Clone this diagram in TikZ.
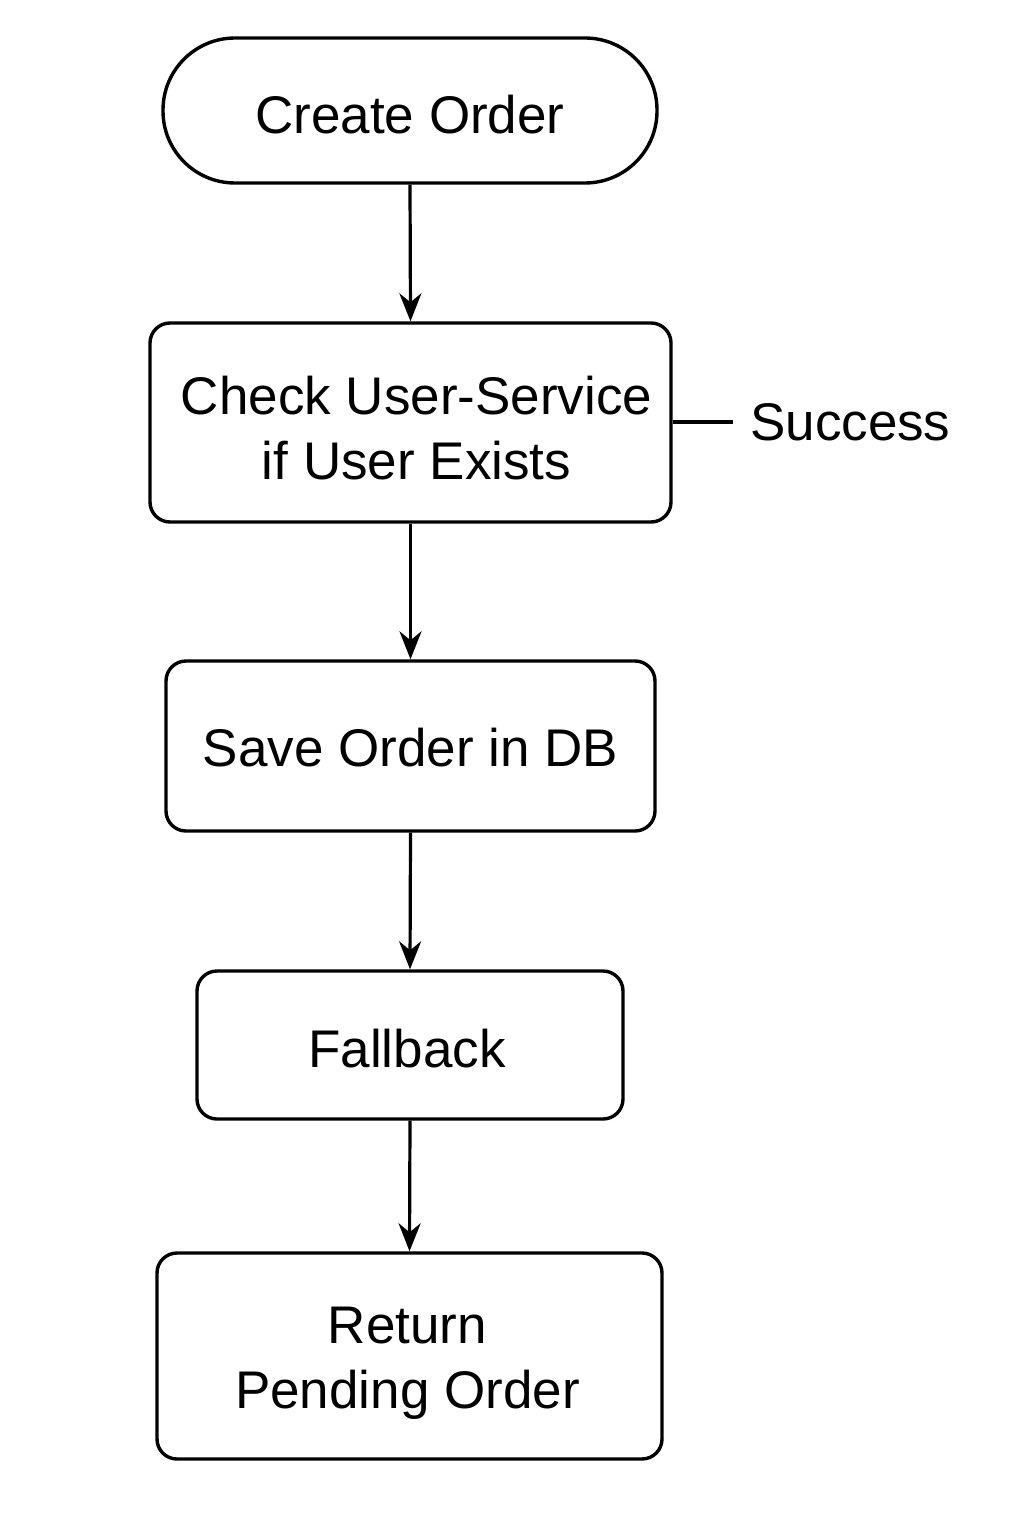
\documentclass[tikz,border=0pt]{standalone}
\usepackage{fontspec}
\setmainfont{Liberation Sans}
\usetikzlibrary{arrows.meta}
\tikzset{
  box/.style={draw, line width=3.4pt, rectangle, rounded corners=20pt, inner sep=0pt},
  flow/.style={line width=3.2pt, -{Stealth[length=28pt,width=22pt,inset=9pt]}},
  lbl/.style={font=\fontsize{53}{65}\selectfont, inner sep=0pt, align=center}
}
\begin{document}
\begin{tikzpicture}[x=1pt,y=-1pt]
\useasboundingbox (0,0) rectangle (1024,1536);
\node[box, rounded corners=72pt, minimum width=494pt, minimum height=145pt] (create) at (410,110.5) {};
\node[box, minimum width=521pt, minimum height=199pt] (check) at (410.5,422.5) {};
\node[box, minimum width=489pt, minimum height=170pt] (save) at (410.5,746) {};
\node[box, minimum width=426pt, minimum height=148pt] (fallback) at (410,1045) {};
\node[box, minimum width=505pt, minimum height=206pt] (ret) at (409.5,1356) {};
\node[lbl, yshift=-4pt] (tcreate) at (create.center) {Create Order};
\node[lbl, yshift=-6pt, xshift=6pt] (tcheck) at (check.center) {Check User-Service\\if User Exists};
\node[lbl, yshift=-2pt] (tsave) at (save.center) {Save Order in DB};
\node[lbl, yshift=-4pt, xshift=-3pt] (tfall) at (fallback.center) {Fallback};
\node[lbl, yshift=-7pt, xshift=-2pt] (tret) at (ret.center) {Return\\Pending Order};
\node[lbl, anchor=west] (succ) at (750,422) {Success};
\coordinate (s) at (733,422);
\draw[flow] (create.south) -- (check.north);
\draw[flow] (check.south) -- (save.north);
\draw[flow] (save.south) -- (fallback.north);
\draw[flow] (fallback.south) -- (ret.north);
\draw[line width=3.2pt] (check.east |- s) -- (s);
\end{tikzpicture}
\end{document}
